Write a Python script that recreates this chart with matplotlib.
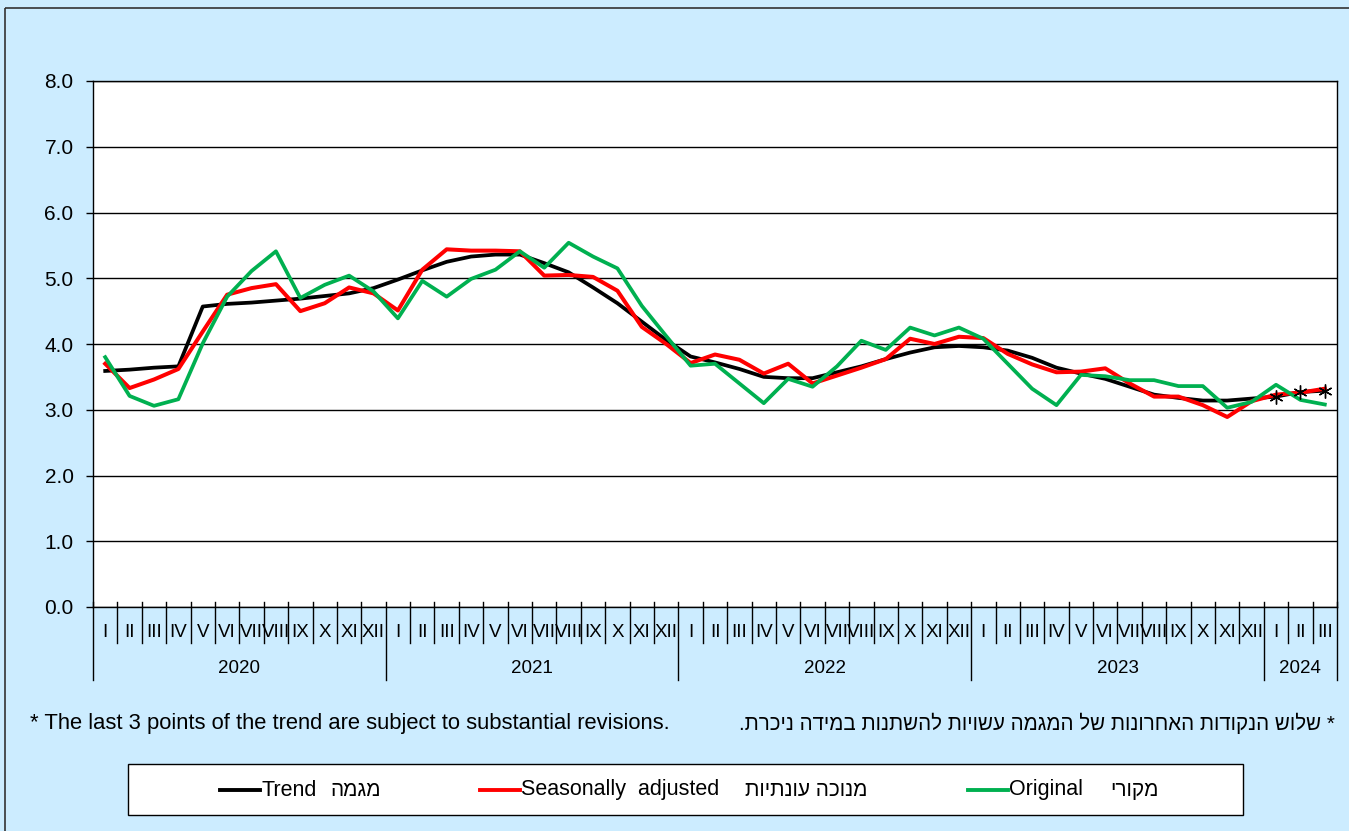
import numpy as np
import matplotlib
matplotlib.use('Agg')
from matplotlib import pyplot as plt
from matplotlib.transforms import blended_transform_factory
from matplotlib.patches import Rectangle

plt.rcParams['font.family'] = ['Liberation Sans', 'DejaVu Sans']

# Jan 2020 .. Mar 2024
months = ['I', 'II', 'III', 'IV', 'V', 'VI', 'VII', 'VIII', 'IX', 'X', 'XI', 'XII']
years = ['2020', '2021', '2022', '2023', '2024']
months_per_year = [12, 12, 12, 12, 3]

trend = [3.59, 3.61, 3.64, 3.66, 4.57, 4.61, 4.63, 4.66, 4.69, 4.73, 4.77, 4.85,
         4.98, 5.12, 5.25, 5.33, 5.36, 5.36, 5.23, 5.09, 4.86, 4.62, 4.34, 4.06,
         3.81, 3.72, 3.62, 3.50, 3.48, 3.48, 3.57, 3.66, 3.77, 3.87, 3.95, 3.97,
         3.95, 3.90, 3.79, 3.64, 3.55, 3.47, 3.35, 3.23, 3.18, 3.14, 3.14, 3.17,
         3.20, 3.27, 3.29]
seas_adj = [3.70, 3.33, 3.46, 3.62, 4.19, 4.75, 4.85, 4.91, 4.50, 4.62, 4.86, 4.77,
            4.51, 5.13, 5.44, 5.42, 5.42, 5.41, 5.04, 5.05, 5.02, 4.81, 4.26, 4.00,
            3.71, 3.84, 3.76, 3.55, 3.70, 3.40, 3.52, 3.64, 3.77, 4.08, 4.00, 4.11,
            4.09, 3.85, 3.69, 3.57, 3.58, 3.63, 3.40, 3.20, 3.20, 3.07, 2.89, 3.13,
            3.23, 3.26, 3.32]
original = [3.80, 3.21, 3.06, 3.16, 4.01, 4.72, 5.11, 5.41, 4.70, 4.90, 5.04, 4.80,
            4.39, 4.96, 4.72, 4.99, 5.13, 5.41, 5.16, 5.54, 5.33, 5.15, 4.58, 4.12,
            3.67, 3.70, 3.40, 3.10, 3.47, 3.35, 3.66, 4.05, 3.91, 4.25, 4.13, 4.25,
            4.08, 3.70, 3.32, 3.07, 3.53, 3.51, 3.45, 3.45, 3.36, 3.36, 3.03, 3.12,
            3.38, 3.15, 3.08]
n_revised = 3  # last trend points marked


def heb(s):
    # matplotlib has no bidi: flip the logical string to visual order
    return s[::-1]


bg = '#CCECFF'
green = '#00B050'
W, H = 1349, 831
fig = plt.figure(figsize=(W / 100, H / 100), dpi=100, facecolor=bg)
ax = fig.add_axes([93 / W, 1 - 607 / H, (1337 - 93) / W, (607 - 81) / H])
ax.set_facecolor('white')

x = np.arange(len(trend))
ax.plot(x, trend, color='black', lw=2.7, zorder=3)
ax.plot(x, seas_adj, color='red', lw=2.9, zorder=4)
ax.plot(x, original, color=green, lw=2.7, zorder=5)
ax.plot(x[-n_revised:], trend[-n_revised:], ls='none', marker=(6, 2, 0),
        ms=10, mec='black', mew=1.0, zorder=6)

ax.set_xlim(-0.5, len(trend) - 0.5)
ax.set_ylim(0, 8)
ax.set_yticks(np.arange(0, 9, 1))
ax.set_yticklabels(['%.1f' % v for v in np.arange(0, 9, 1)], fontsize=15)
ax.grid(axis='y', color='black', lw=1.0)
ax.set_axisbelow(True)
ax.tick_params(axis='y', direction='out', length=5, width=1, pad=9)
ax.set_xticks([])
for s in ax.spines.values():
    s.set_color('black')
    s.set_linewidth(1.0)

# category axis: months and years
tr = blended_transform_factory(ax.transData, ax.transAxes)
pos = 0
for yr, n in zip(years, months_per_year):
    for m in range(n):
        i = pos + m
        ax.text(i, -0.049, months[m], transform=tr, ha='center', va='center',
                fontsize=13.5)
        if m > 0:
            ax.plot([i - 0.5, i - 0.5], [0.01, -0.069], transform=tr,
                    color='black', lw=1.0, clip_on=False)
    ax.plot([pos - 0.5, pos - 0.5], [0.01, -0.139], transform=tr,
            color='black', lw=1.0, clip_on=False)
    ax.text(pos + (n - 1) / 2, -0.117, yr, transform=tr, ha='center',
            va='center', fontsize=13.5)
    pos += n
ax.plot([pos - 0.5, pos - 0.5], [0.01, -0.139], transform=tr,
        color='black', lw=1.0, clip_on=False)

# overlay in pixel coordinates for notes, legend and frame
ov = fig.add_axes([0, 0, 1, 1], zorder=10)
ov.set_xlim(0, W)
ov.set_ylim(H, 0)
ov.axis('off')
ov.patch.set_visible(False)
ov.add_patch(Rectangle((5, 8), W + 10, H + 10, fill=False, ec='#333333', lw=1.2))

ov.text(30, 723, '* The last 3 points of the trend are subject to substantial revisions.',
        ha='left', va='center', fontsize=15.8)
ov.text(1335, 723, heb('* שלוש הנקודות האחרונות של המגמה עשויות להשתנות במידה ניכרת.'),
        ha='right', va='center', fontsize=14.8)

ov.add_patch(Rectangle((128, 764), 1243 - 128, 815 - 764, fc='white',
                       ec='black', lw=1.0))
leg_y = 790
entries = [
    ('black', 220, 'Trend', 330, heb('מגמה')),
    ('red', 480, 'Seasonally  adjusted', 745, heb('מנוכה עונתיות')),
    (green, 968, 'Original', 1110, heb('מקורי')),
]
for col, x0, en, xh, he in entries:
    ov.plot([x0, x0 + 40], [leg_y, leg_y], color=col, lw=2.8)
    ov.text(x0 + 41, leg_y, en, ha='left', va='center', fontsize=15.5)
    ov.text(xh, leg_y, he, ha='left', va='center', fontsize=15)

fig.savefig('out.png', dpi=100, facecolor=bg)
